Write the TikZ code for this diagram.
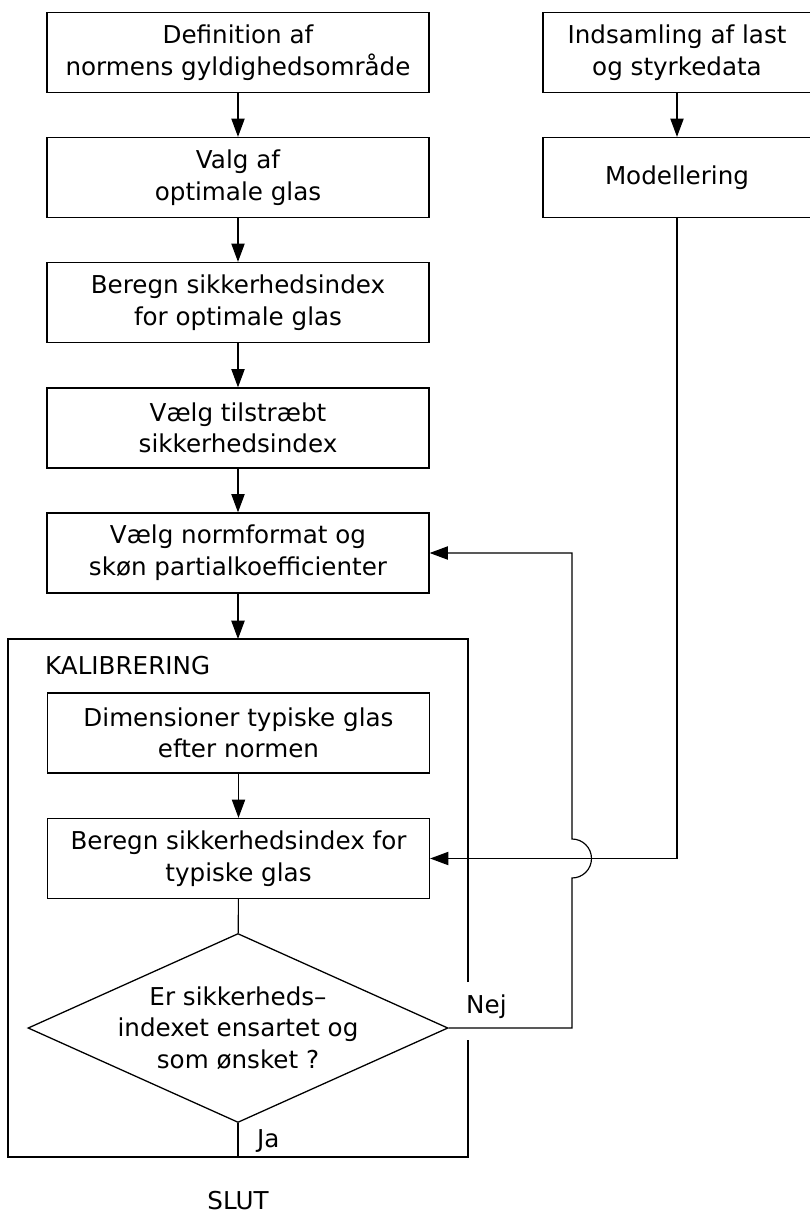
\documentclass[tikz,border=0pt]{standalone}
\usepackage{fontspec}
\setmainfont{DejaVu Sans}
\usetikzlibrary{shapes.geometric,arrows.meta,calc}
\tikzset{
  procbox/.style={draw,line width=1.1pt,minimum width=11.46cm,minimum height=2.4cm,align=center,inner sep=0pt},
  sidebox/.style={procbox,minimum width=8.04cm},
  decision/.style={draw,diamond,line width=1.1pt,minimum width=12.6cm,minimum height=5.67cm,inner sep=0pt},
  flow/.style={line width=1pt,-{Triangle[length=0.55cm,width=0.4cm]}},
  plain/.style={line width=1pt},
  lbl/.style={inner sep=0pt},
}

\begin{document}
\begin{tikzpicture}[x=0.03cm,y=-0.03cm,font=\fontsize{21}{27}\selectfont]
\useasboundingbox (0,0) rectangle (809,1214);
\node[procbox] (def) at (238,52.5) {Definition af\\normens gyldighedsområde};
\node[procbox] (valg) at (238,177.5) {Valg af\\optimale glas};
\node[procbox] (beropt) at (238,302.5) {Beregn sikkerhedsindex\\for optimale glas};
\node[procbox] (tilstr) at (238,428) {Vælg tilstræbt\\sikkerhedsindex};
\node[procbox] (normfmt) at (238,553) {Vælg normformat og\\skøn partialkoefficienter};
\node[sidebox] (indsaml) at (677,52.5) {Indsamling af last\\og styrkedata};
\node[sidebox] (model) at (677,177.5) {Modellering};
\node[procbox] (dimen) at (238.5,733) {Dimensioner typiske glas\\efter normen};
\node[procbox] (bertyp) at (238.5,858.5) {Beregn sikkerhedsindex for\\typiske glas};
\node[decision,label={[lbl,align=center]center:Er sikkerheds–\\indexet ensartet og\\som ønsket ?}] (ask) at (238,1028) {};
\coordinate (kaltop) at (0,639);
\coordinate (kalbund) at (0,1157);
\coordinate (fb) at (572,0);
\draw[plain] (468,982) -- (468,639) -- (8,639) -- (8,1157) -- (468,1157) -- (468,1040);
\node[lbl,anchor=base west] (kal) at (45,674) {KALIBRERING};
\node[lbl,anchor=base west] (nej) at (466,1013) {Nej};
\node[lbl,anchor=base west] (ja) at (257,1147) {Ja};
\node[lbl,anchor=base] (slut) at (238,1209) {SLUT};
\draw[flow] (def) -- (valg);
\draw[flow] (valg) -- (beropt);
\draw[flow] (beropt) -- (tilstr);
\draw[flow] (tilstr) -- (normfmt);
\draw[flow] (normfmt.south) -- (normfmt.south |- kaltop);
\draw[flow] (indsaml) -- (model);
\draw[flow] (dimen) -- (bertyp);
\draw[plain] (bertyp) -- (ask);
\draw[plain] (ask.south) -- (ask.south |- kalbund);
\draw[flow] (model.south) |- (bertyp.east);
\draw[flow] (ask.east) -| ($(fb |- bertyp.east)+(0,19.5)$) arc[start angle=90,end angle=-90,radius=19.5] |- (normfmt.east);
\end{tikzpicture}
\end{document}
